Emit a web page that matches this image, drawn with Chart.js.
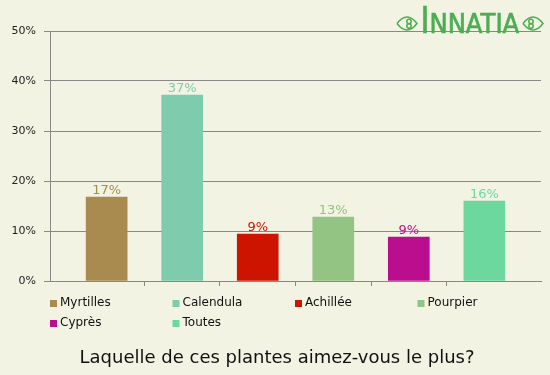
<!DOCTYPE html>
<html>
<head>
<meta charset="utf-8">
<script src="https://cdn.jsdelivr.net/npm/chart.js@4/dist/chart.umd.min.js"></script>
<style>
  html, body { margin: 0; padding: 0; background: #f3f3e3; }
  #wrap { width: 550px; height: 375px; position: relative; }
</style>
</head>
<body>
<div id="wrap"><canvas id="c" width="550" height="375"></canvas></div>
<script>
const categories = ["Myrtilles", "Calendula", "Achillée", "Pourpier", "Cyprès", "Toutes"];
const values = [16.8, 37.2, 9.4, 12.8, 8.8, 16.0];
const valueLabels = ["17%", "37%", "9%", "13%", "9%", "16%"];
const yTicks = [0, 10, 20, 30, 40, 50];
const colors = ["#a98b50", "#7ecbae", "#cc1400", "#94c483", "#bb0e8e", "#6dd89e"];
const title = "Laquelle de ces plantes aimez-vous le plus?";

const FONT = "'DejaVu Sans', Verdana, sans-serif";

const valueLabelPlugin = {
  id: 'valueLabels',
  afterDatasetsDraw(chart) {
    const ctx = chart.ctx;
    const meta = chart.getDatasetMeta(0);
    ctx.save();
    ctx.font = "13px " + FONT;
    ctx.textAlign = 'center';
    ctx.textBaseline = 'alphabetic';
    meta.data.forEach((el, i) => {
      ctx.fillStyle = colors[i];
      ctx.fillText(valueLabels[i], el.x, el.y - 3);
    });
    ctx.restore();
  }
};

const legendTitlePlugin = {
  id: 'legendTitle',
  afterDraw(chart) {
    const ctx = chart.ctx;
    const area = chart.chartArea;
    ctx.save();
    ctx.font = "12px " + FONT;
    ctx.textBaseline = 'middle';
    ctx.textAlign = 'left';
    const colW = 122.5;
    categories.forEach((name, i) => {
      const col = i % 4, row = Math.floor(i / 4);
      const x = area.left + col * colW;
      const y = area.bottom + 22 + row * 20;
      ctx.fillStyle = colors[i];
      ctx.fillRect(x, y - 3, 7, 7);
      ctx.fillStyle = "#111";
      ctx.fillText(name, x + 10, y);
    });
    ctx.font = "18px " + FONT;
    ctx.textAlign = 'center';
    ctx.fillStyle = "#111";
    ctx.fillText(title, 277, 358);

    // logo
    ctx.fillStyle = "#4cad52";
    ctx.strokeStyle = "#4cad52";
    ctx.textAlign = 'left';
    ctx.textBaseline = 'alphabetic';
    ctx.lineWidth = 0.7;
    ctx.save();
    ctx.translate(420.5, 33);
    ctx.scale(0.8, 1);
    ctx.font = "38px 'DejaVu Sans', sans-serif";
    ctx.fillText("I", 0, 0);
    ctx.strokeText("I", 0, 0);
    ctx.restore();
    ctx.save();
    ctx.translate(429.5, 33);
    ctx.scale(0.9, 1);
    ctx.font = "27px 'DejaVu Sans', sans-serif";
    ctx.fillText("NNATIA", 0, 0);
    ctx.strokeText("NNATIA", 0, 0);
    ctx.restore();
    ctx.lineWidth = 1.5;
    [[407, 23.5, 1], [533, 23.5, -1]].forEach(([cx, cy, d]) => {
      ctx.beginPath();
      ctx.moveTo(cx - 10, cy);
      ctx.quadraticCurveTo(cx, cy - 13, cx + 10, cy);
      ctx.quadraticCurveTo(cx, cy + 13, cx - 10, cy);
      ctx.stroke();
      ctx.beginPath();
      ctx.arc(cx + d * 2, cy - 2, 2.2, 0, Math.PI * 2);
      ctx.stroke();
      ctx.beginPath();
      ctx.arc(cx + d * 2, cy + 2.5, 2.2, 0, Math.PI * 2);
      ctx.stroke();
    });
    ctx.restore();
  }
};

new Chart(document.getElementById('c'), {
  type: 'bar',
  data: {
    datasets: [{
      data: values.map((v, i) => ({ x: i, y: v })),
      backgroundColor: colors,
      barThickness: 41,
      borderWidth: 0
    }]
  },
  options: {
    responsive: false,
    animation: false,
    devicePixelRatio: 1,
    layout: { padding: { top: 31, right: 9, left: 0, bottom: 0 } },
    plugins: { legend: { display: false }, tooltip: { enabled: false } },
    scales: {
      x: {
        type: 'linear',
        offset: false,
        min: -0.75,
        max: 5.75,
        afterBuildTicks(s) { s.ticks = [0.5, 1.5, 2.5, 3.5, 4.5].map(v => ({ value: v })); },
        afterFit(s) { s.height = 94; },
        ticks: { display: false },
        grid: { offset: false, drawOnChartArea: false, drawTicks: true, tickLength: 5, color: '#888' },
        border: { color: '#888' }
      },
      y: {
        min: 0,
        max: 50,
        afterBuildTicks(s) { s.ticks = yTicks.map(v => ({ value: v })); },
        afterFit(s) { s.width = 50; },
        ticks: {
          padding: 8,
          color: '#222',
          font: { family: FONT, size: 11 },
          callback: v => v + '%'
        },
        grid: { color: '#888', tickLength: 6 },
        border: { color: '#888' }
      }
    }
  },
  plugins: [valueLabelPlugin, legendTitlePlugin]
});
</script>
</body>
</html>
